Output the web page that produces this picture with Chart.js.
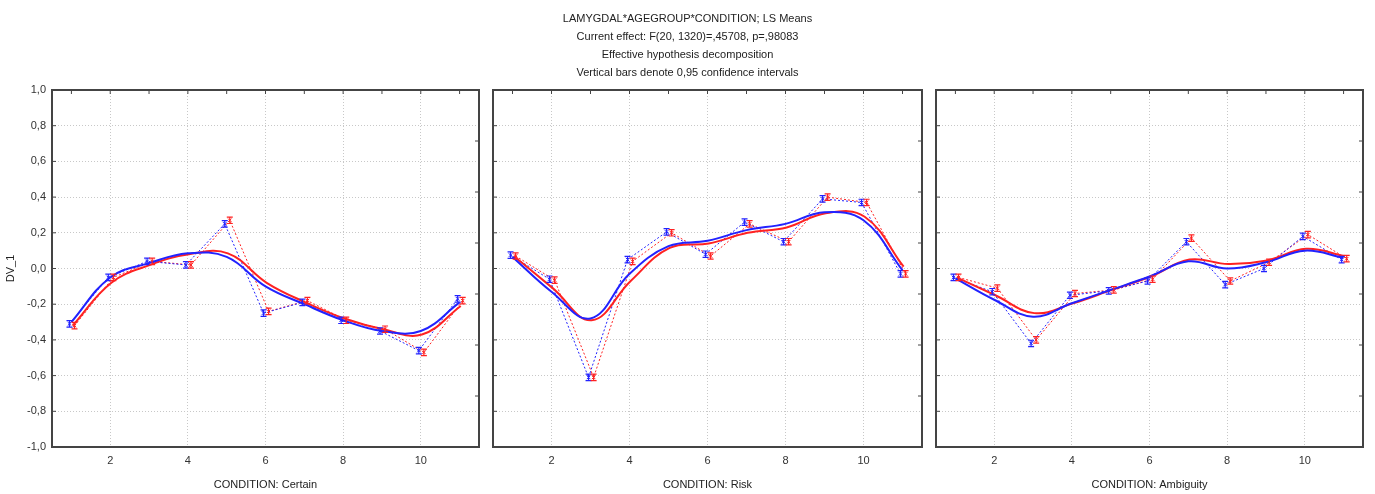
<!DOCTYPE html>
<html>
<head>
<meta charset="utf-8">
<script src="https://cdn.jsdelivr.net/npm/chart.js@4.4.0/dist/chart.umd.min.js"></script>
<style>
body { margin:0; background:#fff; width:1375px; height:494px; position:relative; overflow:hidden; font-family:"Liberation Sans", Arial, sans-serif; }
.title { position:absolute; left:0; top:9px; width:1375px; text-align:center; font-size:11px; line-height:18px; color:#222; z-index:2; }
.panel { position:absolute; top:0; height:494px; }
</style>
</head>
<body>
<div class="title">LAMYGDAL*AGEGROUP*CONDITION; LS Means<br>Current effect: F(20, 1320)=,45708, p=,98083<br>Effective hypothesis decomposition<br>Vertical bars denote 0,95 confidence intervals</div>
<div class="panel" style="left:0;width:484px"><canvas id="c1" width="484" height="494"></canvas></div>
<div class="panel" style="left:482px;width:445px"><canvas id="c2" width="445" height="494"></canvas></div>
<div class="panel" style="left:925px;width:450px"><canvas id="c3" width="450" height="494"></canvas></div>
<script>
var condition = [1, 2, 3, 4, 5, 6, 7, 8, 9, 10, 11];
var xTicks = [2, 4, 6, 8, 10];

// LS means (dotted lines)
var certainBlue   = [-0.31, -0.05, 0.04, 0.02, 0.25, -0.25, -0.19, -0.29, -0.35, -0.46, -0.17];
var certainRed    = [-0.32, -0.05, 0.04, 0.02, 0.27, -0.24, -0.18, -0.29, -0.34, -0.47, -0.18];
var riskBlue      = [0.075, -0.06, -0.61, 0.05, 0.205, 0.08, 0.26, 0.15, 0.39, 0.37, -0.03];
var riskRed       = [0.07, -0.065, -0.61, 0.04, 0.20, 0.07, 0.25, 0.15, 0.40, 0.37, -0.03];
var ambiguityBlue = [-0.05, -0.13, -0.42, -0.15, -0.125, -0.07, 0.15, -0.09, 0.0, 0.18, 0.05];
var ambiguityRed  = [-0.05, -0.11, -0.40, -0.14, -0.12, -0.06, 0.17, -0.07, 0.035, 0.19, 0.055];

// fitted curves (solid lines)
var certainBlueFit   = [-0.30, -0.05, 0.03, 0.085, 0.065, -0.10, -0.20, -0.29, -0.35, -0.35, -0.19];
var certainRedFit    = [-0.32, -0.08, 0.02, 0.08, 0.085, -0.08, -0.19, -0.28, -0.34, -0.37, -0.21];
var riskBlueFit      = [0.065, -0.13, -0.28, -0.03, 0.125, 0.155, 0.215, 0.25, 0.315, 0.27, -0.01];
var riskRedFit       = [0.07, -0.11, -0.29, -0.07, 0.115, 0.14, 0.20, 0.23, 0.31, 0.29, 0.01];
var ambiguityBlueFit = [-0.055, -0.175, -0.27, -0.195, -0.12, -0.045, 0.04, 0.0, 0.035, 0.10, 0.06];
var ambiguityRedFit  = [-0.05, -0.15, -0.25, -0.195, -0.12, -0.045, 0.05, 0.025, 0.045, 0.11, 0.07];

var ciHalf = 0.018;
var BLUE = '#2222ff', RED = '#ff2222';

function pts(vals, shift) {
  return vals.map(function (v, i) { return { x: condition[i] + shift, y: v }; });
}

var errorBars = {
  id: 'errorBars',
  afterDatasetsDraw: function (chart) {
    var ctx = chart.ctx, ys = chart.scales.y;
    chart.data.datasets.forEach(function (ds, di) {
      if (!ds.ci) return;
      var meta = chart.getDatasetMeta(di);
      ctx.save();
      ctx.strokeStyle = ds.borderColor;
      ctx.lineWidth = 1.2;
      meta.data.forEach(function (p, i) {
        var v = ds.data[i].y;
        var t = ys.getPixelForValue(v + ds.ci), b = ys.getPixelForValue(v - ds.ci);
        ctx.beginPath();
        ctx.moveTo(p.x, t); ctx.lineTo(p.x, b);
        ctx.moveTo(p.x - 3, t); ctx.lineTo(p.x + 3, t);
        ctx.moveTo(p.x - 3, b); ctx.lineTo(p.x + 3, b);
        ctx.stroke();
      });
      ctx.restore();
    });
  }
};

// box + small inward ticks like the original plot frame
var frame = {
  id: 'frame',
  afterDraw: function (chart) {
    var a = chart.chartArea, ctx = chart.ctx, xs = chart.scales.x, ys = chart.scales.y;
    ctx.save();
    ctx.strokeStyle = '#444';
    ctx.lineWidth = 2;
    ctx.strokeRect(a.left, a.top, a.right - a.left, a.bottom - a.top);
    ctx.lineWidth = 1;
    ctx.beginPath();
    condition.forEach(function (c) {
      var px = xs.getPixelForValue(c);
      ctx.moveTo(px, a.top); ctx.lineTo(px, a.top + 4);
    });
    ys.ticks.forEach(function (t) {
      var py = ys.getPixelForValue(t.value);
      ctx.moveTo(a.left, py); ctx.lineTo(a.left + 4, py);
    });
    for (var k = 1; k < 7; k++) {
      var py = a.bottom - k * (a.bottom - a.top) / 7;
      ctx.moveTo(a.right, py); ctx.lineTo(a.right - 4, py);
    }
    ctx.stroke();
    ctx.restore();
  }
};

function makeChart(id, blue, red, blueFit, redFit, label, first, rightPad) {
  return new Chart(document.getElementById(id), {
    type: 'scatter',
    data: {
      datasets: [
        { data: pts(blueFit, 0), showLine: true, borderColor: BLUE, borderWidth: 2, tension: 0.4, pointRadius: 0 },
        { data: pts(redFit, 0.03), showLine: true, borderColor: RED, borderWidth: 2, tension: 0.4, pointRadius: 0 },
        { data: pts(blue, -0.05), showLine: true, borderColor: BLUE, borderWidth: 1, borderDash: [2, 2],
          pointStyle: 'crossRot', pointRadius: 2.5, pointBorderColor: BLUE, pointBorderWidth: 1, ci: ciHalf },
        { data: pts(red, 0.08), showLine: true, borderColor: RED, borderWidth: 1, borderDash: [2, 2],
          pointStyle: 'crossRot', pointRadius: 2.5, pointBorderColor: RED, pointBorderWidth: 1, ci: ciHalf }
      ]
    },
    options: {
      responsive: false,
      animation: false,
      layout: { padding: { top: 90, right: rightPad, left: 0, bottom: 0 } },
      plugins: { legend: { display: false }, tooltip: { enabled: false } },
      scales: {
        x: {
          type: 'linear', min: 0.5, max: 11.5,
          afterBuildTicks: function (s) { s.ticks = xTicks.map(function (v) { return { value: v }; }); },
          afterFit: function (s) { s.height = 47; },
          grid: { color: '#c8c8c8', drawTicks: false },
          border: { display: false, dash: [1, 2] },
          ticks: { padding: 7, color: '#333', font: { size: 11, family: 'Liberation Sans' } },
          title: { display: true, text: label, color: '#222', padding: { top: 4, bottom: 2 },
                   font: { size: 11, family: 'Liberation Sans' } }
        },
        y: {
          min: -1, max: 1,
          afterFit: function (s) { s.width = first ? 52 : 11; },
          grid: { color: '#c8c8c8', drawTicks: false },
          border: { display: false, dash: [1, 2] },
          ticks: {
            display: first, stepSize: 0.2, padding: 6, color: '#333',
            font: { size: 11, family: 'Liberation Sans' },
            callback: function (v) { return v.toFixed(1).replace('.', ','); }
          },
          title: { display: first, text: 'DV_1', color: '#222', padding: { top: 4, bottom: 0 },
                   font: { size: 11, family: 'Liberation Sans' } }
        }
      }
    },
    plugins: [errorBars, frame]
  });
}

makeChart('c1', certainBlue, certainRed, certainBlueFit, certainRedFit, 'CONDITION: Certain', true, 2);
makeChart('c2', riskBlue, riskRed, riskBlueFit, riskRedFit, 'CONDITION: Risk', false, 2);
makeChart('c3', ambiguityBlue, ambiguityRed, ambiguityBlueFit, ambiguityRedFit, 'CONDITION: Ambiguity', false, 12);
</script>
</body>
</html>
